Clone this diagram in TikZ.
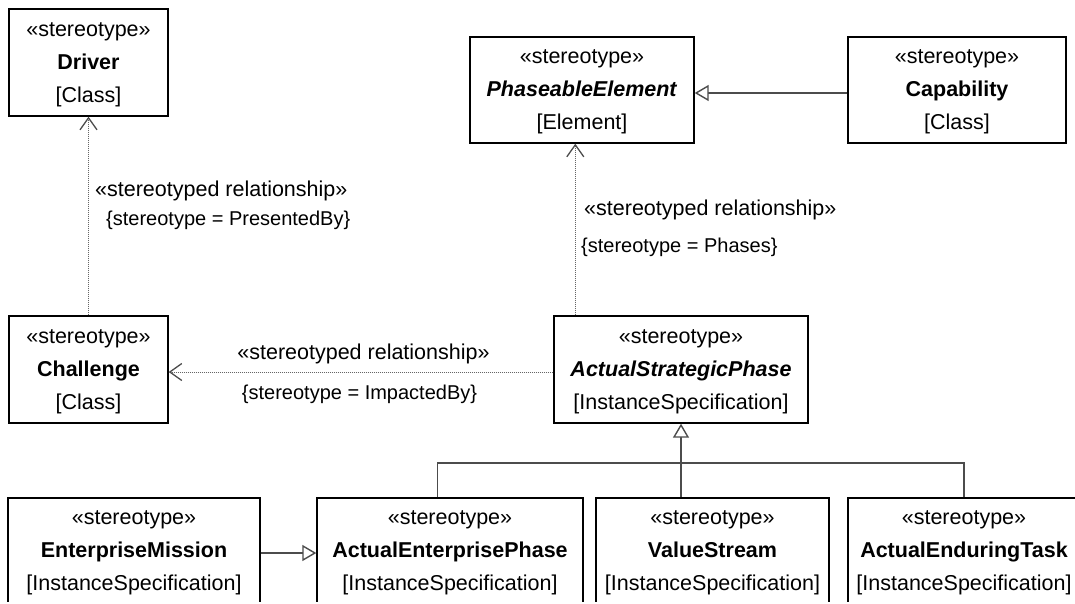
\documentclass[tikz,border=0pt]{standalone}
\usepackage{fontspec}
\setmainfont{Liberation Sans}
\usetikzlibrary{arrows.meta,calc}
\newcommand{\boxfont}{\fontsize{21.5}{33}\selectfont}
\newcommand{\tagfont}{\fontsize{20}{24}\selectfont}
\begin{document}
\begin{tikzpicture}[x=1pt,y=-1pt,
  cls/.style={draw=black, line width=1.4pt, align=center, inner sep=0pt, text depth=0pt, font=\boxfont, fill=white},
  lbl/.style={inner sep=0pt, font=\boxfont},
  tag/.style={inner sep=0pt, font=\tagfont},
  dep/.style={draw=black!60, line width=1pt, dash pattern=on 1pt off 1pt,
    -{Straight Barb[length=12pt,width=17pt,line width=1.3pt,color=black!70]}},
  gen/.style={draw=black!70, line width=1.4pt, -{Triangle[open,fill=white,length=14pt,width=16pt]}},
  genline/.style={draw=black!70, line width=1.4pt}]
\useasboundingbox (0,0) rectangle (1075,603);
\clip (0,0) rectangle (1075,601.5);
% class boxes
\node[cls, minimum width=159pt, minimum height=107pt] (D) at (88.5,62.5)
  {«stereotype»\\\textbf{Driver}\\{[Class]}};
\node[cls, minimum width=159pt, minimum height=107pt] (Ch) at (88.5,369.5)
  {«stereotype»\\\textbf{Challenge}\\{[Class]}};
\node[cls, minimum width=224pt, minimum height=106pt] (PE) at (582,90)
  {«stereotype»\\\textbf{\textit{PhaseableElement}}\\{[Element]}};
\node[cls, minimum width=218pt, minimum height=106pt] (Cap) at (957,90)
  {«stereotype»\\\textbf{Capability}\\{[Class]}};
\node[cls, minimum width=254pt, minimum height=107pt] (ASP) at (681,369.5)
  {«stereotype»\\\textbf{\textit{ActualStrategicPhase}}\\{[InstanceSpecification]}};
\node[cls, minimum width=252pt, minimum height=105pt] (EM) at (134,550.5)
  {«stereotype»\\\textbf{EnterpriseMission}\\{[InstanceSpecification]}};
\node[cls, minimum width=266pt, minimum height=105pt] (AEP) at (450,550.5)
  {«stereotype»\\\textbf{ActualEnterprisePhase}\\{[InstanceSpecification]}};
\node[cls, minimum width=233pt, minimum height=105pt] (VS) at (712.5,550.5)
  {«stereotype»\\\textbf{ValueStream}\\{[InstanceSpecification]}};
\node[cls, minimum width=232pt, minimum height=105pt] (AET) at (964,550.5)
  {«stereotype»\\\textbf{ActualEnduringTask}\\{[InstanceSpecification]}};
% dependencies
\draw[dep] (Ch.north) -- (D.south);
\draw[dep] ($(ASP.west)+(0,2.5)$) -- ($(Ch.east)+(0,2.5)$);
\draw[dep] ($(ASP.north west)+(22,0)$) -- ($(PE.south west)+(106,0)$);
% generalizations
\draw[gen] ($(Cap.west)+(0,3)$) -- ($(PE.east)+(0,3)$);
\draw[gen] ($(EM.east)+(0,2.5)$) -- ($(AEP.west)+(0,2.5)$);
\coordinate (J) at (681,463);
\draw[genline] ($(AEP.north west)+(121,0)$) |- (J);
\draw[genline] (AET.north) |- (J);
\draw[gen] (VS.north -| ASP.south) -- (ASP.south);
% labels
\node[lbl, anchor=west] (l1a) at (95,191) {«stereotyped relationship»};
\node[tag, anchor=west] (l1b) at (106,220) {\{stereotype = PresentedBy\}};
\node[lbl, anchor=west] (l2a) at (584,210) {«stereotyped relationship»};
\node[tag, anchor=west] (l2b) at (581,247) {\{stereotype = Phases\}};
\node[lbl] (l3a) at (363.5,354) {«stereotyped relationship»};
\node[tag] (l3b) at (359.5,394) {\{stereotype = ImpactedBy\}};
\end{tikzpicture}
\end{document}
